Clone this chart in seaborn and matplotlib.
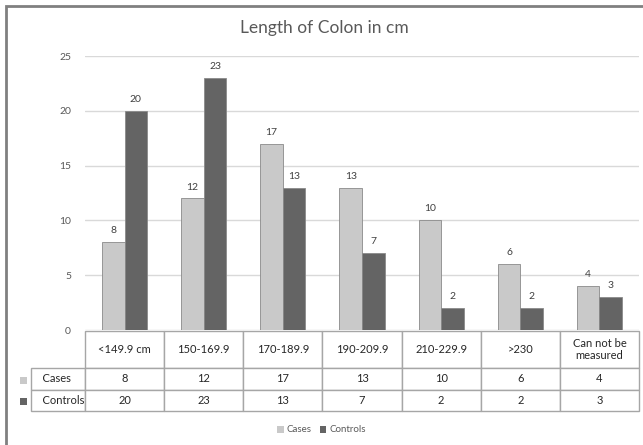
"""
Length of colon chart: grouped bars with an Excel-style data table underneath.
"""

import matplotlib

matplotlib.use("Agg")

import matplotlib.pyplot as plt
import pandas as pd
import seaborn as sns
from matplotlib.patches import Patch, Rectangle

categories = ["<149.9 cm", "150-169.9", "170-189.9", "190-209.9",
              "210-229.9", ">230", "Can not be measured"]
header_labels = ["<149.9 cm", "150-169.9", "170-189.9", "190-209.9",
                 "210-229.9", ">230", "Can not be\nmeasured"]
groups = ["Cases", "Controls"]
cases = [8, 12, 17, 13, 10, 6, 4]
controls = [20, 23, 13, 7, 2, 2, 3]
yticks = [0, 5, 10, 15, 20, 25]

colors = {"Cases": "#c9c9c9", "Controls": "#646464"}

df = pd.DataFrame({
    "range": categories * 2,
    "group": ["Cases"] * len(cases) + ["Controls"] * len(controls),
    "count": cases + controls,
})

sns.set_theme(style="white")
plt.rcParams["font.family"] = ["Lato", "DejaVu Sans"]

W, H = 643, 445
AX_W, AX_H = 554, 274
fig = plt.figure(figsize=(W / 100, H / 100), dpi=100)
ax = fig.add_axes([85 / W, 1 - 330 / H, AX_W / W, AX_H / H])

sns.barplot(data=df, x="range", y="count", hue="group", palette=colors,
            hue_order=groups, order=categories, width=0.57, ax=ax,
            legend=False, edgecolor="#8a8a8a", linewidth=0.6, saturation=1)

for cont in ax.containers:
    ax.bar_label(cont, padding=5, fontsize=7.5, color="#404040")

ax.set_ylim(0, 25)
ax.set_yticks(yticks)
ax.set_xticks([])
ax.set_xlabel("")
ax.set_ylabel("")
ax.tick_params(axis="y", length=0, pad=10, labelsize=7.5, labelcolor="#595959")
ax.grid(axis="y", color="#d9d9d9", linewidth=1)
ax.set_axisbelow(True)
for s in ax.spines.values():
    s.set_visible(False)

fig.suptitle("Length of Colon in cm", x=324 / W, y=1 - 28 / H, va="center",
             fontsize=12.5, color="#595959")

# data table under the bars (bbox covers the data columns only;
# the row-label column hangs off to the left)
cell_text = [[str(v) for v in cases], [str(v) for v in controls]]
tbl = ax.table(cellText=cell_text, rowLabels=["    Cases", "    Controls"],
               colLabels=header_labels, cellLoc="center", rowLoc="left",
               bbox=[0, (330 - 411) / AX_H, 1.0, 80 / AX_H])
tbl.auto_set_font_size(False)
for (r, c), cell in tbl.get_celld().items():
    cell.set_edgecolor("#a6a6a6")
    cell.set_linewidth(1)
    cell.set_height((37 if r == 0 else 21.5) / AX_H)
    cell.set_width((68 if c == -1 else 79.14) / AX_W)
    cell.get_text().set_fontsize(8)
    cell.get_text().set_color("#262626")
    if c == -1:
        cell.PAD = 0.01

# colour keys in the row labels
for i, g in enumerate(groups):
    yc = 1 - (380 + 21 * i) / H
    fig.patches.append(Rectangle((20 / W, yc - 3.5 / H), 7 / W, 7 / H,
                                 transform=fig.transFigure,
                                 facecolor=colors[g], edgecolor="none"))

handles = [Patch(facecolor=colors[g], edgecolor="none", label=g) for g in groups]
fig.legend(handles=handles, loc="center", bbox_to_anchor=(0.5, 1 - 430 / H),
           ncol=2, frameon=False, fontsize=7, handlelength=0.7, handleheight=0.7,
           handletextpad=0.3, columnspacing=0.8, labelcolor="#595959")

# outer chart frame
fig.patches.append(Rectangle((6 / W, -0.02), 1.1, 1.02 - 6 / H,
                             transform=fig.transFigure, fill=False,
                             edgecolor="#808080", linewidth=2))

fig.savefig("out.png", dpi=100)
plt.close(fig)
